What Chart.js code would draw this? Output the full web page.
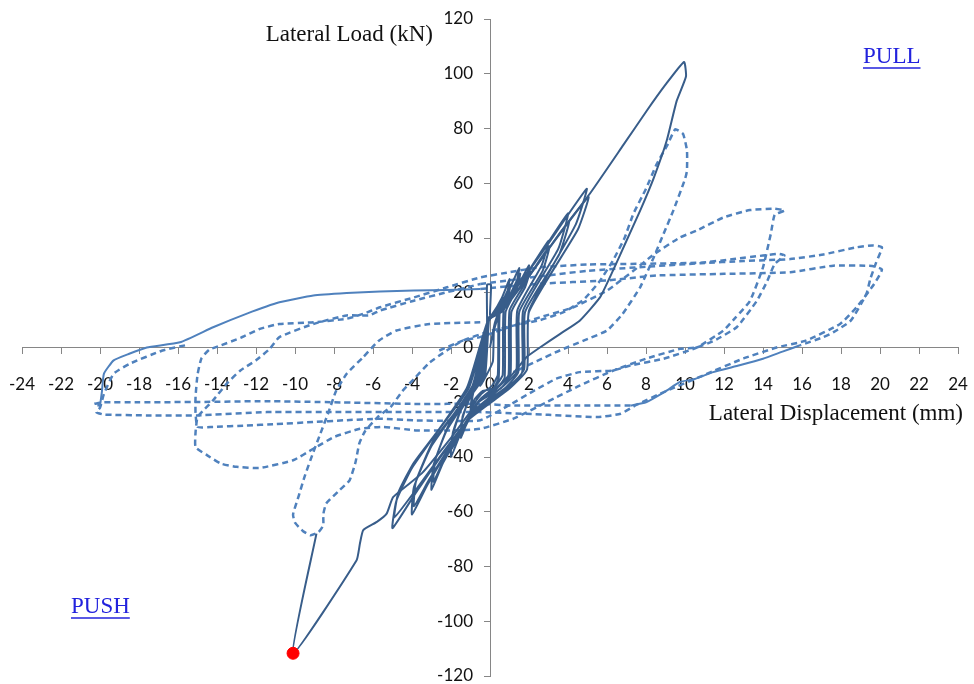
<!DOCTYPE html>
<html>
<head>
<meta charset="utf-8">
<script src="https://cdn.jsdelivr.net/npm/chart.js@4/dist/chart.umd.min.js"></script>
<style>
	html, body { margin: 0; padding: 0; background: #fff; }
	#wrap { width: 974px; height: 684px; }
</style>
</head>
<body>
<div id="wrap"><canvas id="loadChart"></canvas></div>
<script>
// Axis ranges / ticks
const xTicks = { min: -24, max: 24, step: 2 };
const yTicks = { min: -120, max: 120, step: 20 };

// Specimen A (solid): small pinched cycles then +10 / -10 mm
const solidCycles = [
	[0, 0], [0.25, 9], [0.5, 14], [0.4, 11], [0.2, 6], [0.15, -5], [-0.1, -9], [-0.5, -14], [-0.45, -10], [-0.2, -5], [-0.15, 10], [-0.15, 23], [0.05, 23], [0.0, 12],
	[0.1, 12], [0.6, 18], [1.0, 25], [0.85, 19], [0.45, 13], [0.4, -10], [0.1, -14], [-0.45, -17], [-0.85, -21], [-1.0, -24], [-0.95, -19], [-0.75, -14], [-0.3, -10], [-0.1, 9],
	[0.15, 12], [0.65, 17], [1.05, 23], [0.9, 18], [0.5, 13], [0.45, -11], [0.15, -15], [-0.4, -16], [-0.8, -19], [-0.95, -22], [-0.9, -18], [-0.7, -13], [-0.25, -10], [-0.05, 10],
	[0.2, 13], [0.9, 20], [1.5, 29], [1.3, 22], [0.7, 13.5], [0.65, -10], [0.3, -14], [-0.5, -19], [-1.2, -28], [-1.5, -33], [-1.45, -27], [-1.1, -19], [-0.4, -11], [-0.1, 10],
	[0.2, 12], [1.0, 19], [1.55, 27], [1.35, 21], [0.8, 13], [0.75, -11], [0.35, -15], [-0.5, -19], [-1.15, -26], [-1.45, -30], [-1.4, -25], [-1.0, -18], [-0.35, -11], [-0.05, 10],
	[0.25, 13], [1.3, 21], [2.0, 30], [1.75, 23], [1.0, 13.5], [0.95, -10], [0.5, -14], [-0.6, -20], [-1.6, -33], [-2.0, -40], [-1.95, -33], [-1.5, -23], [-0.5, -12], [-0.1, 10],
	[0.3, 13], [1.35, 20], [2.05, 28], [1.8, 22], [1.1, 13], [1.05, -10], [0.55, -15], [-0.6, -20], [-1.55, -31], [-1.95, -37], [-1.9, -31], [-1.4, -21], [-0.45, -12], [-0.05, 11],
	[0.35, 13], [1.8, 26], [3.0, 39], [2.65, 30], [1.4, 13.5], [1.35, -9], [0.7, -14], [-0.8, -23], [-2.4, -42], [-3.0, -52], [-2.9, -43], [-2.2, -30], [-0.7, -13], [-0.1, 10],
	[0.4, 13], [1.9, 25], [3.05, 37], [2.7, 28], [1.5, 13], [1.45, -9], [0.75, -15], [-0.8, -23], [-2.3, -40], [-2.9, -49], [-2.8, -41], [-2.1, -28], [-0.6, -13], [-0.05, 11],
	[0.45, 14], [2.3, 31], [4.0, 49], [3.5, 36], [1.7, 13.5], [1.65, -9], [0.85, -15], [-1.0, -25], [-3.2, -50], [-4.0, -61], [-3.9, -51], [-3.0, -36], [-0.9, -14], [-0.1, 10],
	[0.5, 13], [2.4, 30], [4.05, 46], [3.55, 34], [1.8, 13], [1.75, -8], [0.9, -15], [-1.0, -25], [-3.1, -48], [-3.9, -58], [-3.8, -49], [-2.9, -34], [-0.8, -14], [-0.05, 11],
	[0.55, 14], [2.8, 36], [4.96, 58], [4.4, 45], [2.0, 13.5], [1.9, -8], [1.0, -15], [-1.2, -27], [-3.8, -53], [-5.0, -66], [-4.8, -56], [-4.0, -44], [-1.2, -15], [-0.1, 10],
	[0.6, 13], [2.9, 35], [5.05, 55], [4.5, 43], [2.0, 13], [1.9, -8], [1.0, -15], [-1.2, -27], [-3.7, -51], [-4.9, -62], [-4.7, -53], [-3.9, -42], [-1.1, -15], [-0.1, 10]
];
const solidFinal = [
	[-0.1, 10], [0.6, 14], [2.0, 26], [3.5, 41], [5.2, 57], [6.84, 74], [8.03, 86.4], [9.0, 96], [9.95, 104.3], [10.05, 99],
	[9.57, 90], [9.06, 75.5], [8.4, 62], [7.7, 50], [7.0, 39], [6.3, 28], [5.64, 18.3], [4.6, 9.8], [3.6, 5], [2.56, 0], [1.88, -3.5],
	[1.0, -11], [-0.5, -19], [-2.0, -33], [-3.5, -46], [-4.96, -54.6], [-5.3, -60.7], [-5.8, -63.7], [-6.5, -66.7], [-6.67, -71.6],
	[-6.84, -77.7], [-10.1, -111.7], [-8.9, -68]
];
const lastPoint = [[-10.1, -111.7]];

// Specimen B (dashed): +-10, +-15 and +-20 mm cycles
const dashCycle10 = [
	[-0.5, 9.2], [-3.1, 8.6], [-4.8, 6.2], [-5.7, 2.5], [-6.5, -3.5], [-7.35, -9.6], [-7.9, -16], [-8.3, -24], [-8.7, -31.5], [-9.1, -39],
	[-9.5, -47], [-9.8, -54], [-10.1, -61], [-10.0, -64], [-9.6, -67], [-9.2, -68.6], [-8.8, -67.5], [-8.55, -65], [-8.55, -61], [-8.4, -57],
	[-7.7, -52], [-7.2, -48.5], [-6.9, -42], [-6.7, -35], [-6.4, -30.5], [-5.7, -25], [-5.1, -21.8], [-4.5, -16], [-3.9, -11.5], [-3.1, -5.5],
	[-2.2, -1], [-1.4, 2.5], [0, 6], [1.2, 8], [2.56, 10], [3.8, 13], [4.8, 17.5], [5.6, 24], [6.3, 31.7], [6.9, 40], [7.35, 48.8], [8.0, 58],
	[8.55, 67], [9.1, 74], [9.5, 79.7], [9.9, 78], [10.1, 72], [10.1, 64.6], [10, 61.5], [9.4, 50], [8.9, 41.5], [8.4, 33], [7.7, 22],
	[6.8, 12.3], [6, 6.2], [4.8, 2.5], [3.6, -1], [2.4, -5], [1.2, -9]
];
const dashCycle15 = [
	[-2.6, -1.1], [-1.4, 2.5], [-0.5, 3.8], [1, 7.5], [2.56, 11], [4.27, 14.7], [6, 20.8], [7.35, 28], [8.4, 34], [9.74, 40.2], [10.6, 42.7],
	[11.97, 47.5], [13.33, 50.2], [14.6, 50.7], [15.1, 50], [14.6, 48.5], [14.4, 41.5], [14, 29.3], [13.33, 17], [12.6, 11], [11.97, 6.2],
	[10.6, 0], [8.9, -4.1], [7.2, -6.6], [6.3, -8.4], [4.6, -9], [3.4, -11.4], [2.2, -16], [1, -21], [-0.5, -26.6], [-2, -26.8], [-3.9, -26.6],
	[-5.64, -26], [-7.5, -26.6], [-9.06, -27.2], [-11, -28], [-12.5, -28.5], [-14.2, -29], [-15, -29], [-15.1, -24], [-15.1, -18], [-15, -10],
	[-14.8, -4], [-14.4, -0.8], [-13.8, 0.8], [-12.8, 3.5], [-11.8, 6.8], [-10.8, 8.6], [-9.06, 9.2], [-7.35, 10.5], [-6.5, 12.3], [-5.64, 14.7],
	[-3.9, 18.3], [-2.2, 22], [-0.5, 25.6], [1, 27.5], [2.56, 29.3], [5, 30.3], [8, 30.6], [10.8, 31], [12.5, 32.3], [14, 33.6], [14.8, 34.2],
	[15.1, 33.6], [14.6, 30.5], [14.2, 24], [13.68, 17], [12.65, 7.4], [11.5, 2.5], [10.6, 0], [9.74, -0.5], [8, -4.1], [6.3, -8.5], [4.6, -13.9],
	[2.9, -20], [1.2, -26], [-0.5, -29.7], [-2, -30.3], [-3.76, -30.3], [-5.47, -29], [-6.67, -29.7], [-8, -32.7], [-9.06, -37], [-10.1, -41.2],
	[-11.8, -44], [-13.0, -43.6], [-13.8, -42.4], [-14.5, -39.4], [-15.1, -36.4], [-15.1, -31], [-15, -25.4], [-14.7, -23], [-14.2, -19.3],
	[-13.5, -13.2], [-12.8, -8.4], [-12, -4.7], [-11.3, -0.5], [-10.8, 3.8], [-9.06, 8.6], [-7.35, 11.7], [-6.2, 11.7], [-5.64, 13.5],
	[-3.9, 17.1], [-2.2, 20.2], [-0.5, 23.2]
];
const dashPull20a = [
	[-0.5, 23.2], [2.56, 26], [5, 28], [8, 29.5], [10.8, 30.8], [13, 31.6], [15.4, 32.3], [17.1, 34], [18.8, 36.6], [19.6, 37.3], [20.1, 36.6],
	[19.8, 31], [19.5, 25], [19.3, 19.5], [18.5, 9.8], [17.6, 5.5], [17.1, 3.8], [15.9, 0.8]
];
const jaggedRight = [
	[15.9, 0.8], [15, -1.5], [14, -4.1], [12.8, -6.5], [11.45, -9], [10.5, -11.5], [9.74, -12.6], [9, -16], [8, -20], [7.2, -21.2]
];
const dashPush20a = [
	[7.2, -21.2], [4.6, -21.2], [1.2, -21.2], [-0.5, -20.6], [-3.9, -20.6], [-8, -20], [-11.5, -19.6], [-14.9, -19.9], [-18, -20],
	[-19.8, -20], [-20.3, -20.6], [-20, -21.3]
];
const jaggedLeft = [
	[-20, -21.3], [-19.9, -16], [-19.8, -9.6], [-19.3, -4.7], [-18.5, -2.3], [-17.6, 0], [-15.9, 1.9], [-14.2, 7.4], [-12.5, 12.3],
	[-10.8, 16.5], [-9.06, 19], [-7.35, 19.9], [-5.64, 20.5], [-3.9, 20.8], [-2.2, 21], [-0.5, 21.4]
];
const dashCycle20b = [
	[-0.5, 21.4], [2.5, 23.3], [6, 24.5], [8.55, 26.3], [12, 26.9], [15.4, 27.5], [17.6, 29.9], [19.6, 29.8], [20.1, 28.5], [19.7, 23.2],
	[18.8, 14.7], [17.95, 8.6], [16.2, 2.5], [14.7, 0], [13, -4], [11, -10], [9, -16], [7.5, -21], [6.7, -24.2], [5.5, -25.4], [3, -24.6],
	[-0.5, -23.6], [-4.6, -23.6], [-8, -23.6], [-11.45, -23.6], [-15, -24.8], [-17.6, -24.8], [-19.8, -24.5], [-20.2, -23.6], [-20, -22],
	[-19.8, -17], [-19.3, -9.6], [-18.5, -6], [-16.8, -1.1], [-15.5, 1]
];

const solidColor = '#385d8a';
const dashColor = '#4f81bd';
const axisColor = '#868686';

function toXY(arr) {
	return arr.map((p) => ({ x: p[0], y: p[1] }));
}

function lineSet(arr, color, width, dash) {
	return {
		data: toXY(arr),
		showLine: true,
		borderColor: color,
		borderWidth: width,
		borderDash: dash,
		pointRadius: 0,
		fill: false,
		tension: 0.15
	};
}

// crossing axes should not push the plot area in
function noPadding(scale) {
	scale.paddingLeft = 0;
	scale.paddingRight = 0;
	scale.paddingTop = 0;
	scale.paddingBottom = 0;
}

// Axis titles and PULL / PUSH notes
const labelsPlugin = {
	id: 'labels',
	afterDraw(chart) {
		const ctx = chart.ctx;
		const xs = chart.scales.x;
		const ys = chart.scales.y;
		ctx.save();
		ctx.fillStyle = '#111';
		ctx.font = '23px "Liberation Serif", serif';
		ctx.textBaseline = 'middle';
		ctx.textAlign = 'right';
		ctx.fillText('Lateral Load (kN)', xs.getPixelForValue(0) - 57, 35);
		ctx.fillText('Lateral Displacement (mm)', 963, ys.getPixelForValue(0) + 66);

		ctx.fillStyle = '#2222dd';
		ctx.strokeStyle = '#2222dd';
		ctx.lineWidth = 1.5;
		ctx.textAlign = 'left';
		const notes = [['PULL', 863, 57], ['PUSH', 71, 607]];
		notes.forEach((n) => {
			ctx.fillText(n[0], n[1], n[2]);
			const w = ctx.measureText(n[0]).width;
			ctx.beginPath();
			ctx.moveTo(n[1], n[2] + 11);
			ctx.lineTo(n[1] + w, n[2] + 11);
			ctx.stroke();
		});
		ctx.restore();
	}
};

new Chart(document.getElementById('loadChart'), {
	type: 'scatter',
	data: {
		datasets: [
			{
				data: toXY(lastPoint),
				pointRadius: 6,
				pointBackgroundColor: '#ff0000',
				pointBorderColor: '#ff0000',
				showLine: false
			},
			lineSet(solidFinal, solidColor, 2, []),
			lineSet(solidCycles, solidColor, 2, []),
			lineSet(dashCycle10, dashColor, 2.5, [6, 4]),
			lineSet(dashCycle15, dashColor, 2.5, [6, 4]),
			lineSet(dashPull20a, dashColor, 2.5, [6, 4]),
			lineSet(jaggedRight, dashColor, 2, []),
			lineSet(dashPush20a, dashColor, 2.5, [6, 4]),
			lineSet(jaggedLeft, dashColor, 2, []),
			lineSet(dashCycle20b, dashColor, 2.5, [6, 4])
		]
	},
	options: {
		responsive: true,
		maintainAspectRatio: false,
		animation: false,
		layout: { padding: { left: 22, right: 16, top: 19, bottom: 8 } },
		plugins: {
			legend: { display: false },
			tooltip: { enabled: false }
		},
		scales: {
			x: {
				type: 'linear',
				position: { y: 0 },
				min: xTicks.min,
				max: xTicks.max,
				afterFit: noPadding,
				ticks: {
					stepSize: xTicks.step,
					autoSkip: false,
					maxRotation: 0,
					padding: 21,
					color: '#111',
					font: { family: 'Lato', size: 17 }
				},
				grid: { drawOnChartArea: false, drawTicks: true, tickLength: 6, color: axisColor },
				border: { color: axisColor, width: 1 }
			},
			y: {
				type: 'linear',
				position: { x: 0 },
				min: yTicks.min,
				max: yTicks.max,
				afterFit: noPadding,
				ticks: {
					stepSize: yTicks.step,
					autoSkip: false,
					color: '#111',
					font: { family: 'Lato', size: 17 },
					// keep the labels clear of the axis line
					callback: (v) => v + '\u2002\u2002'
				},
				grid: { drawOnChartArea: false, drawTicks: true, tickLength: 6, color: axisColor },
				border: { color: axisColor, width: 1 }
			}
		}
	},
	plugins: [labelsPlugin]
});
</script>
</body>
</html>
